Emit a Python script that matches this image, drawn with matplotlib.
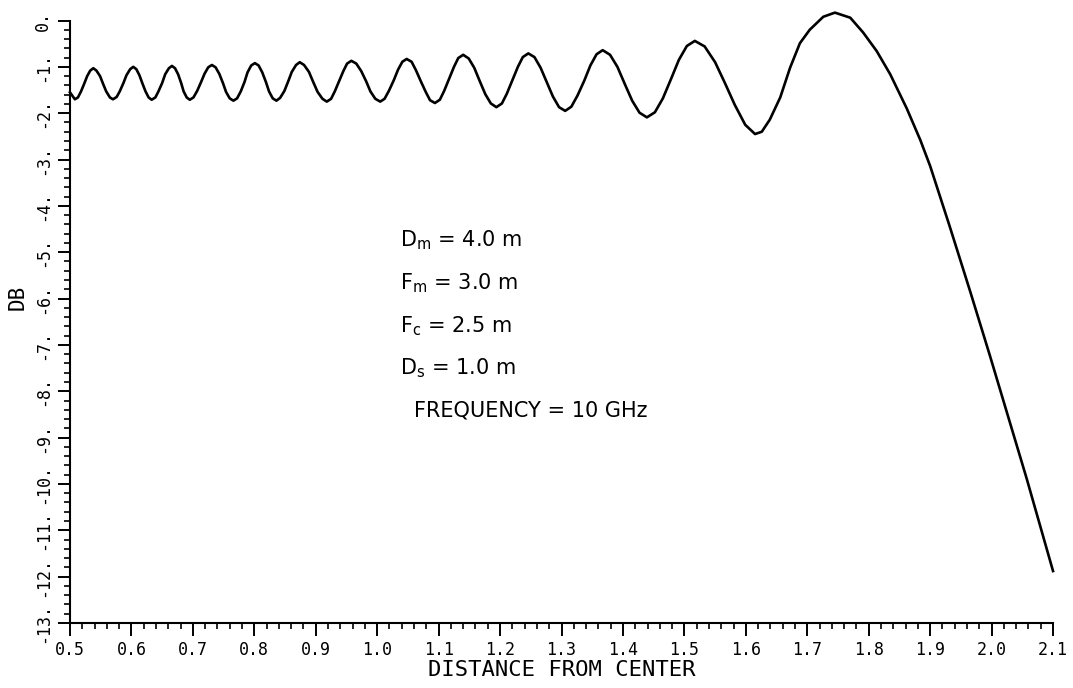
import matplotlib
matplotlib.use("Agg")
from matplotlib import pyplot as plt
from matplotlib.ticker import MultipleLocator, FuncFormatter

# points: distance from center vs. level (dB)
dist = [
    0.500, 0.508,
    0.513, 0.518, 0.523, 0.528, 0.533, 0.538,
    0.543, 0.549, 0.554, 0.559, 0.565, 0.570,
    0.576, 0.581, 0.587, 0.592, 0.598, 0.603,
    0.608, 0.613, 0.618, 0.623, 0.628, 0.633,
    0.639, 0.644, 0.650, 0.655, 0.661, 0.666,
    0.671, 0.676, 0.681, 0.685, 0.690, 0.695,
    0.701, 0.707, 0.713, 0.719, 0.725, 0.731,
    0.737, 0.743, 0.749, 0.754, 0.760, 0.766,
    0.772, 0.778, 0.784, 0.789, 0.795, 0.801,
    0.807, 0.813, 0.819, 0.824, 0.830, 0.836,
    0.842, 0.849, 0.855, 0.861, 0.868, 0.874,
    0.881, 0.889, 0.896, 0.903, 0.911, 0.918,
    0.925, 0.931, 0.938, 0.945, 0.951, 0.958,
    0.966, 0.974, 0.982, 0.989, 0.997, 1.005,
    1.012, 1.019, 1.027, 1.034, 1.041, 1.048,
    1.056, 1.063, 1.071, 1.079, 1.086, 1.094,
    1.102, 1.109, 1.117, 1.125, 1.132, 1.140,
    1.149, 1.158, 1.167, 1.176, 1.185, 1.194,
    1.203, 1.211, 1.220, 1.229, 1.237, 1.246,
    1.256, 1.266, 1.276, 1.286, 1.296, 1.306,
    1.316, 1.326, 1.337, 1.347, 1.357, 1.367,
    1.379, 1.391, 1.403, 1.415, 1.427, 1.439,
    1.452, 1.465, 1.478, 1.491, 1.504, 1.517,
    1.533, 1.550, 1.566, 1.582, 1.599, 1.615,
    1.626, 1.639, 1.656, 1.672, 1.688, 1.704, 1.726, 1.745,
    1.770, 1.791, 1.813, 1.835, 1.862, 1.884, 1.900, 1.932,
    1.965, 1.997, 2.030, 2.057, 2.100,
]

db = [
    -1.55, -1.70,
    -1.66, -1.53, -1.37, -1.20, -1.08, -1.03,
    -1.08, -1.20, -1.37, -1.53, -1.66, -1.70,
    -1.65, -1.53, -1.35, -1.18, -1.05, -1.00,
    -1.05, -1.18, -1.36, -1.53, -1.66, -1.71,
    -1.66, -1.53, -1.35, -1.16, -1.03, -0.98,
    -1.03, -1.16, -1.35, -1.53, -1.66, -1.71,
    -1.66, -1.52, -1.34, -1.15, -1.01, -0.96,
    -1.01, -1.15, -1.35, -1.54, -1.68, -1.73,
    -1.68, -1.53, -1.33, -1.12, -0.97, -0.92,
    -0.97, -1.12, -1.33, -1.53, -1.68, -1.73,
    -1.67, -1.52, -1.32, -1.11, -0.96, -0.90,
    -0.96, -1.11, -1.33, -1.54, -1.69, -1.75,
    -1.69, -1.53, -1.31, -1.09, -0.93, -0.87,
    -0.93, -1.09, -1.31, -1.53, -1.69, -1.75,
    -1.69, -1.52, -1.29, -1.06, -0.89, -0.83,
    -0.89, -1.07, -1.31, -1.54, -1.72, -1.78,
    -1.71, -1.52, -1.26, -1.00, -0.81, -0.74,
    -0.82, -1.02, -1.31, -1.59, -1.79, -1.87,
    -1.79, -1.58, -1.29, -1.00, -0.79, -0.71,
    -0.79, -1.02, -1.33, -1.64, -1.87, -1.95,
    -1.86, -1.62, -1.30, -0.97, -0.73, -0.64,
    -0.74, -1.00, -1.37, -1.73, -1.99, -2.09,
    -1.98, -1.68, -1.27, -0.85, -0.55, -0.44,
    -0.56, -0.90, -1.35, -1.82, -2.25, -2.45,
    -2.40, -2.14, -1.66, -1.02, -0.49, -0.20, 0.08, 0.17,
    0.06, -0.26, -0.66, -1.16, -1.90, -2.58, -3.14, -4.45,
    -5.84, -7.22, -8.68, -9.88, -11.88,
]

params = [
    "D$_m$ = 4.0 m",
    "F$_m$ = 3.0 m",
    "F$_c$ = 2.5 m",
    "D$_s$ = 1.0 m",
    "FREQUENCY = 10 GHz",
]

plt.rcParams["mathtext.default"] = "regular"
mono = "DejaVu Sans Mono"

fig = plt.figure(figsize=(10.73, 6.88), dpi=100)
ax = fig.add_axes([0.0652, 0.0945, 0.9162, 0.8757])

ax.plot(dist, db, color="black", linewidth=1.9, clip_on=False)

ax.set_xlim(0.5, 2.1)
ax.set_ylim(-13, 0)

ax.spines["top"].set_visible(False)
ax.spines["right"].set_visible(False)
ax.spines["left"].set_linewidth(1.5)
ax.spines["bottom"].set_linewidth(1.5)

ax.xaxis.set_major_locator(MultipleLocator(0.1))
ax.xaxis.set_minor_locator(MultipleLocator(0.02))
ax.yaxis.set_major_locator(MultipleLocator(1))
ax.yaxis.set_minor_locator(MultipleLocator(0.2))
ax.xaxis.set_major_formatter(FuncFormatter(lambda v, p: "%.1f" % v))
ax.yaxis.set_major_formatter(FuncFormatter(lambda v, p: "%d." % round(v)))

ax.tick_params(which="major", direction="out", length=9, width=1.4, labelsize=12, pad=4)
ax.tick_params(which="minor", direction="out", length=4.5, width=1.2)
for lab in ax.get_xticklabels() + ax.get_yticklabels():
    lab.set_family(mono)
plt.setp(ax.get_yticklabels(), rotation=90, va="center")

ax.set_xlabel("DISTANCE FROM CENTER", family=mono, fontsize=16, labelpad=1)
ax.set_ylabel("DB", family=mono, fontsize=15, ha="center", va="center")
ax.yaxis.set_label_coords(-0.053, 0.54)

# parameter block in the middle of the plot
ys = [0.625, 0.554, 0.483, 0.412, 0.343]
xs = [0.336, 0.336, 0.336, 0.336, 0.350]
for s, x, y in zip(params, xs, ys):
    ax.text(x, y, s, transform=ax.transAxes, fontsize=15, va="baseline", ha="left")

plt.savefig("out.png", dpi=100)
